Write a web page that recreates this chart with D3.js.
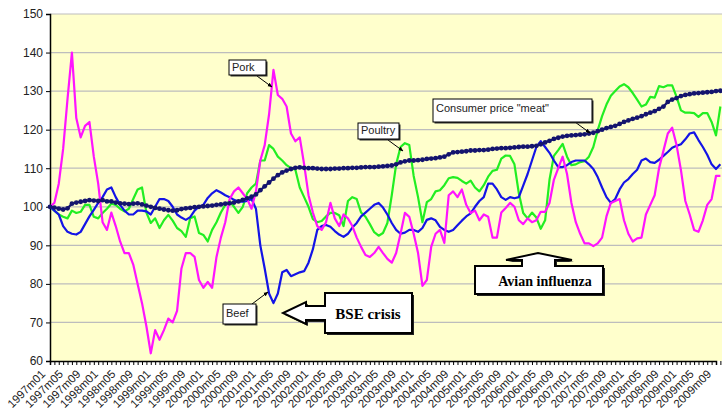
<!DOCTYPE html>
<html>
<head>
<meta charset="utf-8">
<script src="https://cdn.jsdelivr.net/npm/d3@7"></script>
<style>
  body { margin: 0; background: #fff; }
  svg { display: block; font-family: "Liberation Sans", Arial, sans-serif; }
</style>
</head>
<body>
<div class="chart"></div>
<script>
// monthly index values, 1997m01 .. 2009m10 (1997m01 = 100)
const pork = [100,101,106,115,128,140,123,118,121,122,113,106,96,94,98.5,95,91,88,88,85,80,75,69,62,68,65.5,68,71,70,73,
  84,88,88,87,81,79,80.5,79,87,92,96,102,104,105,103.5,102,99.5,104,112,116,124,135.5,129,128,126,119,117,118,111,103,
  98.5,95,94,96,101,97,95,98,97,95,92,89.6,87.5,87,88,89.6,88,86.5,85.5,88,93,98.4,97.4,93,88,79.5,81,89.6,93,94,
  90.6,103,104,102.5,104.5,100.5,98.4,99,96.5,98,97.4,92,92,98.5,99.7,101,100,96.5,95.5,97,96,96.5,98.7,98.7,101,107,110,113,108.5,101,
  96,93,90.5,90.5,89.8,90.5,92,97.5,101,101.5,102,96.5,93,91,91.8,92,98,100.5,103,110,114.5,119,120.5,116,109.5,101.5,98,94,93.5,96.5,
  100.5,102,108,108];
const beef = [100,99,98,95,93.5,93,92.8,93.5,95.5,97.5,99.2,101,102.5,104.5,105,102.5,100.5,99,98,98,99,99,98.8,98,100,102,102,101.5,100,98,
  97.2,96.6,97.3,99,100,100.5,102.3,103.5,104.3,103.7,103,102.5,101.8,101.3,101.3,101.5,102,99.5,90,84,77.5,75,77.5,83,83.6,82,82.5,83,83.3,85.5,
  89,94,95,95.3,94.8,93.7,92.8,92.2,93,94.6,95.8,97.5,98.5,99.5,100.5,101,99.8,98,95.8,94,93,93.3,94,94,93.5,94.5,96.6,97,96.5,94.8,
  94,93.5,94,95.2,96.4,97.5,98.3,100,101.5,102.5,106,106,104.5,102.5,101.8,102.5,102.2,102.5,105.5,108.5,112,115.5,117,115.5,114,112,110.3,110.3,110.8,111.6,
  112,112,112,111,109.8,107.7,105,102.5,101,102,104.5,106.3,107.2,108.5,109.6,112,112.5,111.6,111.4,112.2,113.2,114.2,115.3,115.8,116.2,117.5,119,119.3,117.3,115.5,
  113.5,111,109.8,111];
const poultry = [100,99,98,97.4,97,99,98.4,98.7,100.5,100.5,97.4,97,98.4,99.5,100.8,100.5,99.5,98.8,99.5,102,104.5,105,98.5,95.8,97,94.5,96.5,97.9,96.4,94.5,
  93.7,92.2,97,97.5,93.2,92.7,91,94,96,98.5,100.5,101.5,100,98.4,100,103.5,105,106,112,112,116,115,113,112,110.8,110,109.6,105,102.5,100,
  96.8,96,96.3,97.5,98.4,98.4,97.8,95,101.5,102.5,102,98.5,97.4,95.5,93.4,92.5,93.2,95.8,103,111,115.5,116.5,116,108,102.5,96,101.2,102,104,104.3,
  105.6,107.4,107.7,107.5,106.7,106,106.8,105,104,105.6,107.8,109.3,109.6,112.5,113.3,113.2,111,103.5,98.4,97,98.5,97.2,94.3,96.5,107,113.2,114.7,116.3,113,110.8,
  111,111.6,111.8,113,115.5,119.8,123.5,126.5,128.8,130,131.2,131.8,131,129.5,127.8,126,126.5,128.5,128.3,131.3,131,131.5,131.5,128.5,125,124.4,124.4,124.3,123.3,124.3,
  124.3,122,118.5,126];
const consumerMeat = [100,99.8,99.5,99.3,99.6,100.8,101.1,101.3,101.5,101.7,101.6,101.5,101.7,101.4,101.4,101.1,100.9,100.8,100.7,100.8,100.9,100.6,100.3,100,99.7,99.5,99.3,99.1,99,99.1,
  99.4,99.6,99.7,99.9,100,100.1,100.2,100.3,100.5,100.6,100.8,100.9,101.1,101.4,101.8,102.2,102.6,103.2,104.3,105.3,106.3,107.3,108.2,108.9,109.4,109.8,110.1,110.2,110.1,110,
  110,109.9,109.8,109.8,109.8,109.9,109.9,110,110,110.1,110.1,110.2,110.3,110.3,110.3,110.4,110.5,110.6,110.7,111,111.5,111.8,112,112,112.1,112.2,112.4,112.5,112.6,112.8,
  113,113.6,114.1,114.2,114.3,114.4,114.6,114.6,114.7,114.7,114.8,115,115.1,115.2,115.2,115.3,115.4,115.5,115.6,115.6,115.7,115.8,116.2,116.7,117.1,117.6,117.9,118.2,118.4,118.5,
  118.6,118.7,118.8,119,119.2,119.6,120,120.4,120.7,121,121.5,122,122.4,122.8,123.1,123.5,124,124.4,124.8,125.4,126,127.2,127.8,128.2,128.7,129,129.2,129.4,129.5,129.6,
  129.7,129.8,130,130.1];

// category labels 1997m01 .. 2009m10
const months = [];
for (let yr = 1997; yr <= 2009; yr++) {
  for (let m = 1; m <= 12; m++) {
    if (yr === 2009 && m > 10) break;
    months.push(yr + "m" + (m < 10 ? "0" + m : m));
  }
}
const yTicks = [60, 70, 80, 90, 100, 110, 120, 130, 140, 150];

const w = 722, h = 414;
const plotLeft = 50, plotTop = 14, plotBottom = 361;

const svg = d3.select(".chart").append("svg")
  .attr("width", w)
  .attr("height", h);

const xScale = d3.scaleLinear().domain([0, 152]).range([plotLeft, 716]);
const yScale = d3.scaleLinear().domain([60, 150]).range([plotBottom, plotTop]);

/* plot background */
svg.append("rect")
  .attr("x", plotLeft).attr("y", plotTop)
  .attr("width", w - plotLeft).attr("height", plotBottom - plotTop)
  .attr("fill", "#FFFFCC");

/* horizontal gridlines */
svg.append("g").selectAll("line")
  .data(yTicks.slice(1))
  .enter().append("line")
  .attr("x1", plotLeft).attr("x2", w)
  .attr("y1", d => yScale(d)).attr("y2", d => yScale(d))
  .attr("stroke", "#BDBDBD").attr("stroke-width", 1.2);

/* axes */
const xAxis = d3.axisBottom(xScale)
  .tickValues(d3.range(0, months.length))
  .tickSize(4)
  .tickFormat(i => i % 4 === 0 ? months[i] : "");
const gx = svg.append("g")
  .attr("transform", "translate(0," + plotBottom + ")")
  .call(xAxis);
gx.select(".domain").attr("stroke", "#000").attr("stroke-width", 1.5);
gx.selectAll(".tick line").attr("stroke", "#000");
gx.selectAll(".tick text")
  .attr("font-size", 11.5)
  .attr("fill", "#222")
  .attr("text-anchor", "end")
  .attr("transform", "translate(-10,8) rotate(-45)")
  .attr("dx", 0).attr("dy", 0).attr("y", 8).attr("x", 0);

const yAxis = d3.axisLeft(yScale).tickValues(yTicks).tickSize(4).tickFormat(d3.format("d"));
const gy = svg.append("g")
  .attr("transform", "translate(" + plotLeft + ",0)")
  .call(yAxis);
gy.select(".domain").attr("stroke", "#000").attr("stroke-width", 1.5);
gy.selectAll(".tick line").attr("stroke", "#000");
gy.selectAll(".tick text").attr("font-size", 12).attr("fill", "#222").attr("x", -7);

/* series lines */
const line = d3.line()
  .x((d, i) => xScale(i))
  .y(d => yScale(d));

const series = [
  { values: poultry, color: "#22EE22" },
  { values: beef, color: "#1414E6" },
  { values: pork, color: "#FF14FF" },
];
series.forEach(s => {
  svg.append("path")
    .datum(s.values)
    .attr("d", line)
    .attr("fill", "none")
    .attr("stroke", s.color)
    .attr("stroke-width", 2.2)
    .attr("stroke-linejoin", "round");
});

svg.append("path")
  .datum(consumerMeat)
  .attr("d", line)
  .attr("fill", "none")
  .attr("stroke", "#14146E")
  .attr("stroke-width", 2.2);
svg.append("g").selectAll("circle")
  .data(consumerMeat)
  .enter().append("circle")
  .attr("cx", (d, i) => xScale(i))
  .attr("cy", d => yScale(d))
  .attr("r", 2.4)
  .attr("fill", "#14146E");

/* small label boxes with leader arrows */
svg.append("defs").append("marker")
  .attr("id", "head")
  .attr("viewBox", "0 0 10 10")
  .attr("refX", 9).attr("refY", 5)
  .attr("markerWidth", 5).attr("markerHeight", 5)
  .attr("orient", "auto")
  .append("path").attr("d", "M0,1 L10,5 L0,9 Z").attr("fill", "#000");

const labels = [
  { text: "Pork", x: 229, y: 60, w: 37, h: 15, from: [257, 76], to: [272, 87] },
  { text: "Poultry", x: 358, y: 123, w: 41, h: 16, from: [388, 140], to: [403, 151] },
  { text: "Consumer price \"meat\"", x: 433, y: 99, w: 159, h: 23, from: [575, 122], to: [590, 133] },
  { text: "Beef", x: 223, y: 304, w: 33, h: 20, from: [252, 304], to: [268, 292] },
];
labels.forEach(l => {
  svg.append("line")
    .attr("x1", l.from[0]).attr("y1", l.from[1])
    .attr("x2", l.to[0]).attr("y2", l.to[1])
    .attr("stroke", "#000").attr("stroke-width", 1)
    .attr("marker-end", "url(#head)");
  svg.append("rect")
    .attr("x", l.x + 1.5).attr("y", l.y + 1.5)
    .attr("width", l.w).attr("height", l.h)
    .attr("fill", "#333");
  svg.append("rect")
    .attr("x", l.x).attr("y", l.y)
    .attr("width", l.w).attr("height", l.h)
    .attr("fill", "#fff").attr("stroke", "#000").attr("stroke-width", 1);
  svg.append("text")
    .attr("x", l.x + 3).attr("y", l.y + (l.h > 16 ? 13 : 11))
    .attr("font-size", 11)
    .attr("fill", "#222")
    .text(l.text);
});

/* BSE crisis callout (left arrow) */
const bse = [[325, 293], [412, 293], [412, 333], [325, 333], [325, 320], [306, 320], [306, 324], [283, 313],
  [306, 302], [306, 306], [325, 306]];
svg.append("path")
  .attr("d", "M" + bse.map(p => (p[0] + 2) + "," + (p[1] + 2)).join("L") + "Z")
  .attr("fill", "#222");
svg.append("path")
  .attr("d", "M" + bse.join("L") + "Z")
  .attr("fill", "#fff").attr("stroke", "#000").attr("stroke-width", 2);
svg.append("text")
  .attr("x", 368).attr("y", 319)
  .attr("text-anchor", "middle")
  .attr("font-family", "Liberation Serif, Times New Roman, serif")
  .attr("font-weight", "bold").attr("font-size", 15)
  .text("BSE crisis");

/* Avian influenza callout (up arrow) */
const avian = [[475, 266], [522, 266], [522, 260], [506, 260], [538, 253], [572, 260], [555, 260], [555, 266],
  [603, 266], [603, 294], [475, 294]];
svg.append("path")
  .attr("d", "M" + avian.map(p => (p[0] + 2) + "," + (p[1] + 2)).join("L") + "Z")
  .attr("fill", "#222");
svg.append("path")
  .attr("d", "M" + avian.join("L") + "Z")
  .attr("fill", "#fff").attr("stroke", "#000").attr("stroke-width", 2);
svg.append("text")
  .attr("x", 545).attr("y", 286)
  .attr("text-anchor", "middle")
  .attr("font-family", "Liberation Serif, Times New Roman, serif")
  .attr("font-weight", "bold").attr("font-size", 14)
  .text("Avian influenza");
</script>
</body>
</html>
